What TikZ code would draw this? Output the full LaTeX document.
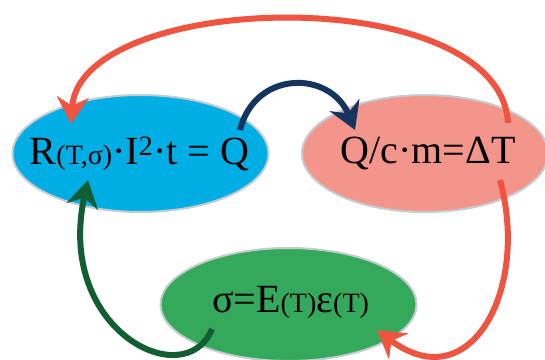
\documentclass[tikz,border=0pt]{standalone}
\usepackage{fontspec}
\setmainfont{Liberation Serif}
\usetikzlibrary{arrows.meta, shapes.geometric}

\definecolor{heatblue}{HTML}{00AEE6}
\definecolor{temppink}{HTML}{F4958B}
\definecolor{stressgreen}{HTML}{35A95B}
\definecolor{rimgray}{HTML}{C5CCD0}
\definecolor{flownavy}{HTML}{15355E}
\definecolor{flowred}{HTML}{EE5440}
\definecolor{flowgreen}{HTML}{125E33}

\newcommand{\lowtxt}[1]{{\fontsize{28}{30}\selectfont #1}}

\begin{document}
\begin{tikzpicture}[
    x=1pt, y=1pt,
    state/.style={ellipse, draw=rimgray, line width=2pt, minimum width=256pt, minimum height=117pt, inner sep=0pt},
    eqn/.style={inner sep=0pt, font=\fontsize{40}{44}\selectfont},
    flow/.style={-{Stealth[length=27pt, width=32pt, inset=9pt]}, line width=6pt},
]
\useasboundingbox (0,0) rectangle (545,359);

% the three relations
\node[state, fill=heatblue] (heat) at (140.5,205.5) {};
\node[state, fill=temppink, minimum width=246pt] (temp) at (425,205.5) {};
\node[state, fill=stressgreen, minimum height=113pt] (stress) at (288.5,54.5) {};
\node[eqn] (heat-eq) at ([xshift=-1pt]heat.center) {R\lowtxt{(T,σ)}·I\textsuperscript{2}·t = Q};
\node[eqn] (temp-eq) at ([xshift=3pt]temp.center) {Q/c·m=ΔT};
\node[eqn] (stress-eq) at ([xshift=2pt, yshift=2pt]stress.center) {σ=E\lowtxt{(T)}ε\lowtxt{(T)}};

% coupling arrows
\draw[flow, flownavy] ([shift={(99.5,23.5)}]heat.center) .. controls +(15,60) and +(-25,60) .. ([shift={(-70,23.5)}]temp.center);
\draw[flow, flowred] ([shift={(83,30.5)}]temp.center) .. controls +(-8,143) and +(9,134) .. ([shift={(-69.5,29.5)}]heat.center);
\draw[flow, flowred] ([shift={(75,-26.5)}]temp.center) .. controls +(30,-110) and +(93,-70) .. ([shift={(88.5,-25.5)}]stress.center);
\draw[flow, flowgreen] ([shift={(-76.5,-24.5)}]stress.center) .. controls +(-27,-66) and +(-33,-150) .. ([shift={(-52.5,-26.5)}]heat.center);

\end{tikzpicture}
\end{document}
